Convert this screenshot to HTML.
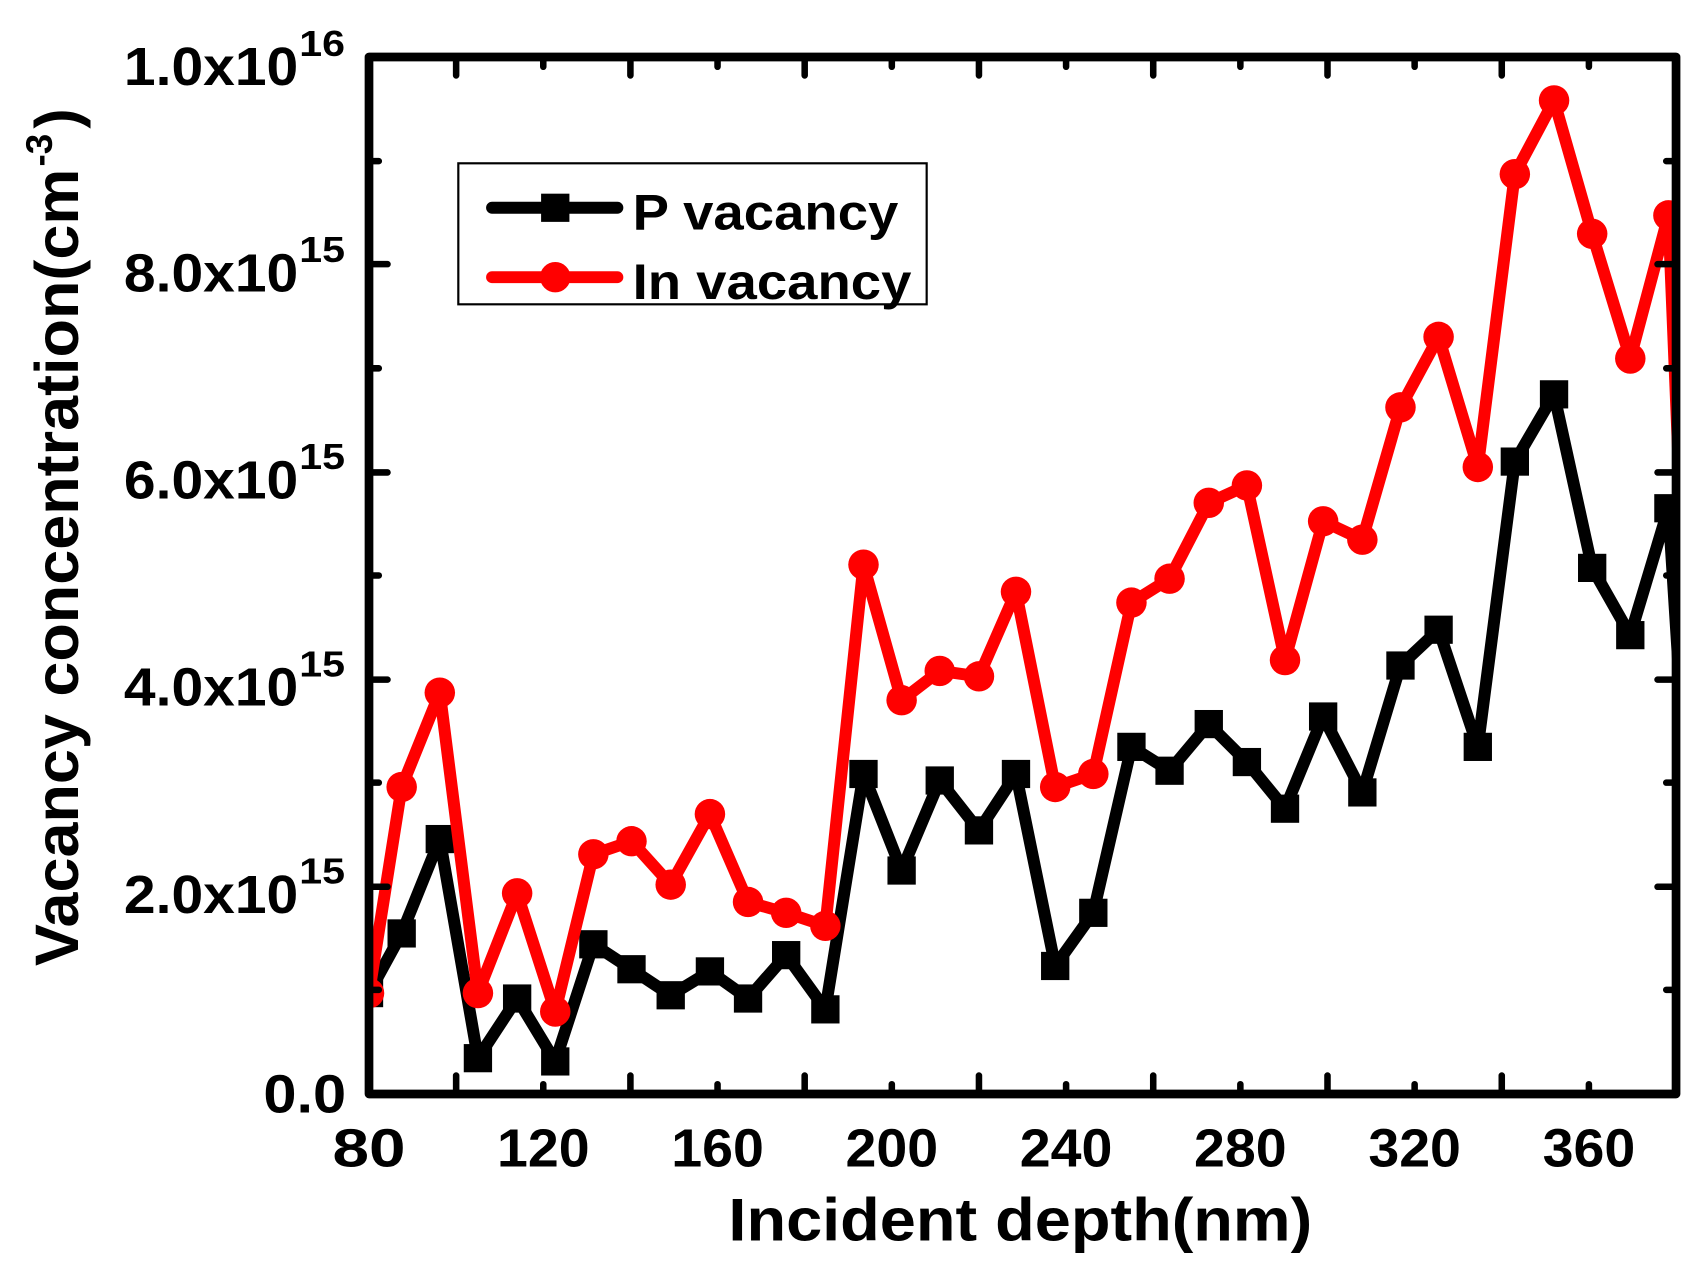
<!DOCTYPE html>
<html><head><meta charset="utf-8"><style>html,body{margin:0;padding:0;background:#fff}svg{display:block}</style></head>
<body>
<svg width="1705" height="1266" viewBox="0 0 1705 1266" xmlns="http://www.w3.org/2000/svg" font-family="Liberation Sans, Arial, sans-serif" font-weight="bold">
<g transform="matrix(1.0892,0,0,1.0847,1.94,6.02)">
<defs><clipPath id="c"><rect x="337" y="47" width="1200" height="956"/></clipPath></defs>
<g clip-path="url(#c)" stroke-linejoin="round">
<polyline fill="none" stroke="#000" stroke-width="11" points="337,910 367,855 402,768 437,970 473,915 508,973 543,865 578,888 614,912 650,890 685,915 720,875 756,925 791,708 826,797 861,714 897,760 931,708 967,885 1002,836 1037,683 1072,705 1108,662 1143,697 1178,740 1213,655 1249,725 1284,608 1319,575 1355,683 1389,420 1425,358 1460,518 1495,580 1530,463 1545,700"/>
<g fill="#000">
<rect x="324" y="897" width="26" height="26"/><rect x="354" y="842" width="26" height="26"/><rect x="389" y="755" width="26" height="26"/><rect x="424" y="957" width="26" height="26"/><rect x="460" y="902" width="26" height="26"/><rect x="495" y="960" width="26" height="26"/><rect x="530" y="852" width="26" height="26"/><rect x="565" y="875" width="26" height="26"/><rect x="601" y="899" width="26" height="26"/><rect x="637" y="877" width="26" height="26"/><rect x="672" y="902" width="26" height="26"/><rect x="707" y="862" width="26" height="26"/><rect x="743" y="912" width="26" height="26"/><rect x="778" y="695" width="26" height="26"/><rect x="813" y="784" width="26" height="26"/><rect x="848" y="701" width="26" height="26"/><rect x="884" y="747" width="26" height="26"/><rect x="918" y="695" width="26" height="26"/><rect x="954" y="872" width="26" height="26"/><rect x="989" y="823" width="26" height="26"/><rect x="1024" y="670" width="26" height="26"/><rect x="1059" y="692" width="26" height="26"/><rect x="1095" y="649" width="26" height="26"/><rect x="1130" y="684" width="26" height="26"/><rect x="1165" y="727" width="26" height="26"/><rect x="1200" y="642" width="26" height="26"/><rect x="1236" y="712" width="26" height="26"/><rect x="1271" y="595" width="26" height="26"/><rect x="1306" y="562" width="26" height="26"/><rect x="1342" y="670" width="26" height="26"/><rect x="1376" y="407" width="26" height="26"/><rect x="1412" y="345" width="26" height="26"/><rect x="1447" y="505" width="26" height="26"/><rect x="1482" y="567" width="26" height="26"/><rect x="1517" y="450" width="26" height="26"/>
</g>
<polyline fill="none" stroke="#f00" stroke-width="11" points="337,910 367,720 402,633 437,910 473,818 508,927 543,782 578,770 614,810 650,745 685,826 720,836 756,848 791,515 826,640 861,613 897,618 931,540 967,720 1002,708 1037,550 1072,528 1108,458 1143,442 1178,603 1213,475 1249,492 1284,370 1319,305 1355,425 1389,155 1425,87 1460,210 1495,325 1530,193 1545,560"/>
<g fill="#f00">
<circle cx="337" cy="910" r="14"/><circle cx="367" cy="720" r="14"/><circle cx="402" cy="633" r="14"/><circle cx="437" cy="910" r="14"/><circle cx="473" cy="818" r="14"/><circle cx="508" cy="927" r="14"/><circle cx="543" cy="782" r="14"/><circle cx="578" cy="770" r="14"/><circle cx="614" cy="810" r="14"/><circle cx="650" cy="745" r="14"/><circle cx="685" cy="826" r="14"/><circle cx="720" cy="836" r="14"/><circle cx="756" cy="848" r="14"/><circle cx="791" cy="515" r="14"/><circle cx="826" cy="640" r="14"/><circle cx="861" cy="613" r="14"/><circle cx="897" cy="618" r="14"/><circle cx="931" cy="540" r="14"/><circle cx="967" cy="720" r="14"/><circle cx="1002" cy="708" r="14"/><circle cx="1037" cy="550" r="14"/><circle cx="1072" cy="528" r="14"/><circle cx="1108" cy="458" r="14"/><circle cx="1143" cy="442" r="14"/><circle cx="1178" cy="603" r="14"/><circle cx="1213" cy="475" r="14"/><circle cx="1249" cy="492" r="14"/><circle cx="1284" cy="370" r="14"/><circle cx="1319" cy="305" r="14"/><circle cx="1355" cy="425" r="14"/><circle cx="1389" cy="155" r="14"/><circle cx="1425" cy="87" r="14"/><circle cx="1460" cy="210" r="14"/><circle cx="1495" cy="325" r="14"/><circle cx="1530" cy="193" r="14"/>
</g>
</g>
<g stroke="#000" stroke-width="6" stroke-linecap="round">
<path d="M417,1003v-17M497,1003v-9M577,1003v-17M657,1003v-9M737,1003v-17M817,1003v-9M897,1003v-17M977,1003v-9M1057,1003v-17M1137,1003v-9M1217,1003v-17M1297,1003v-9M1377,1003v-17M1457,1003v-9"/>
<path d="M417,47v17M497,47v9M577,47v17M657,47v9M737,47v17M817,47v9M897,47v17M977,47v9M1057,47v17M1137,47v9M1217,47v17M1297,47v9M1377,47v17M1457,47v9"/>
<path d="M337,907h9M337,812h17M337,716h9M337,621h17M337,525h9M337,430h17M337,334h9M337,238h17M337,143h9"/>
<path d="M1537,907h-9M1537,812h-17M1537,716h-9M1537,621h-17M1537,525h-9M1537,430h-17M1537,334h-9M1537,238h-17M1537,143h-9"/>
</g>
<rect x="337" y="47" width="1200" height="956" fill="none" stroke="#000" stroke-width="8" stroke-linejoin="round"/>
<rect x="419" y="145" width="430" height="130" fill="#fff" stroke="#000" stroke-width="2"/>
<line x1="450" y1="186" x2="565" y2="186" stroke="#000" stroke-width="11" stroke-linecap="round"/>
<rect x="495" y="173" width="26" height="26" fill="#000"/>
<line x1="450" y1="250" x2="565" y2="250" stroke="#f00" stroke-width="11" stroke-linecap="round"/>
<circle cx="508" cy="250" r="14" fill="#f00"/>
<text x="579" y="206" font-size="46" textLength="244" lengthAdjust="spacingAndGlyphs">P vacancy</text>
<text x="579" y="270" font-size="46" textLength="256" lengthAdjust="spacingAndGlyphs">In vacancy</text>
<g font-size="50" text-anchor="middle" lengthAdjust="spacingAndGlyphs">
<text x="337" y="1070" textLength="67" lengthAdjust="spacingAndGlyphs">80</text><text x="497" y="1070" textLength="85" lengthAdjust="spacingAndGlyphs">120</text><text x="657" y="1070" textLength="85" lengthAdjust="spacingAndGlyphs">160</text><text x="817" y="1070" textLength="85" lengthAdjust="spacingAndGlyphs">200</text><text x="977" y="1070" textLength="85" lengthAdjust="spacingAndGlyphs">240</text><text x="1137" y="1070" textLength="85" lengthAdjust="spacingAndGlyphs">280</text><text x="1297" y="1070" textLength="85" lengthAdjust="spacingAndGlyphs">320</text><text x="1457" y="1070" textLength="85" lengthAdjust="spacingAndGlyphs">360</text>
</g>
<g font-size="50">
<text x="240" y="1020" textLength="76" lengthAdjust="spacingAndGlyphs">0.0</text>
<text x="112" y="836" textLength="160" lengthAdjust="spacingAndGlyphs">2.0x10</text><text x="112" y="645" textLength="160" lengthAdjust="spacingAndGlyphs">4.0x10</text><text x="112" y="454" textLength="160" lengthAdjust="spacingAndGlyphs">6.0x10</text><text x="112" y="263" textLength="160" lengthAdjust="spacingAndGlyphs">8.0x10</text><text x="112" y="73" textLength="160" lengthAdjust="spacingAndGlyphs">1.0x10</text>
</g>
<g font-size="33">
<text x="273" y="809" textLength="42" lengthAdjust="spacingAndGlyphs">15</text><text x="273" y="618" textLength="42" lengthAdjust="spacingAndGlyphs">15</text><text x="273" y="427" textLength="42" lengthAdjust="spacingAndGlyphs">15</text><text x="273" y="236" textLength="42" lengthAdjust="spacingAndGlyphs">15</text><text x="273" y="46" textLength="42" lengthAdjust="spacingAndGlyphs">16</text>
</g>
<text x="667" y="1138" font-size="56" textLength="536" lengthAdjust="spacingAndGlyphs">Incident depth(nm)</text>
<g transform="translate(70,885) rotate(-90)">
<text x="0" y="0" font-size="56" textLength="735" lengthAdjust="spacingAndGlyphs">Vacancy concentration(cm</text>
<text x="737" y="-24" font-size="34">-3</text>
<text x="772" y="0" font-size="56">)</text>
</g>
</g>
</svg>
</body></html>
